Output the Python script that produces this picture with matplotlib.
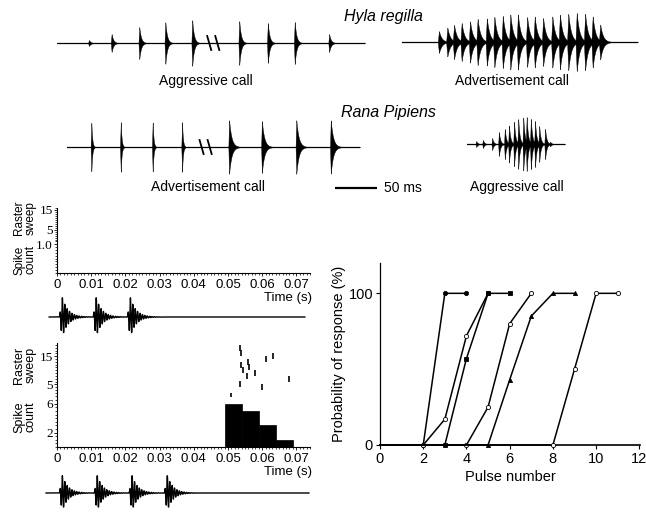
import numpy as np
import matplotlib
matplotlib.use("Agg")
import matplotlib.pyplot as plt
from matplotlib.ticker import MultipleLocator

plt.rcParams["font.family"] = ["Liberation Sans", "DejaVu Sans"]

# ---------------- data ----------------
# oscillograms: pulse peak times (ms from trace start) and amplitudes (a.u.)
hyla_agg_t = [38, 65, 98, 129, 161, 217, 251, 283, 324]
hyla_agg_a = [3, 9, 16, 21, 23, 22, 20, 21, 9]
hyla_agg_len = 367
hyla_agg_break = 186

hyla_adv_t = [44, 54, 62, 71, 81, 90, 101, 110, 120, 129, 138, 149, 158,
              168, 179, 188, 198, 208, 218, 227, 236]
hyla_adv_a = [11, 14, 16, 18, 20, 22, 23, 24, 25, 26, 26, 24, 24, 23, 25,
              26, 27, 28, 27, 24, 16]
hyla_adv_len = 281

rana_adv_t = [29, 64, 102, 137, 193, 232, 273, 314]
rana_adv_a = [25, 25, 25, 25, 27, 26, 27, 27]
rana_adv_len = 349
rana_adv_break = 165

rana_agg_t = [11, 19, 30, 38, 45, 50, 56, 61, 67, 71, 76, 81, 86, 93, 99]
rana_agg_a = [3, 4, 6, 12, 15, 18, 22, 24, 26, 25, 24, 22, 17, 15, 2]
rana_agg_len = 117

# stimuli under the raster panels (s)
stim1_peaks = [0.0015, 0.0114, 0.0214]
stim2_peaks = [0.0015, 0.0117, 0.0219, 0.0322]
stim1_span = (-0.0023, 0.0725)
stim2_span = (-0.0032, 0.0737)

# raster + PSTH (bottom panel)
raster_t = [0.0510, 0.0535, 0.0537, 0.0543, 0.0555, 0.0559, 0.0562, 0.0580,
            0.0601, 0.0611, 0.0633, 0.0680, 0.0534, 0.0537]
raster_sweep = [1, 5, 12, 10, 8, 13, 11, 9, 4, 14, 15, 7, 18, 16]
bin_edges = [0.049, 0.054, 0.059, 0.064, 0.069]
bin_counts = [6, 5, 3, 1]

time_ticks = [0, 0.01, 0.02, 0.03, 0.04, 0.05, 0.06, 0.07]
time_labels = ["0", "0.01", "0.02", "0.03", "0.04", "0.05", "0.06", "0.07"]

# probability of response vs pulse number
curve_a = [0, 0, 0, 100, 100]
curve_b = [0, 0, 0, 17, 72, 100]
curve_c = [0, 0, 0, 0, 57, 100, 100]
curve_d = [0, 0, 0, 0, 0, 25, 80, 100]
curve_e = [0, 0, 0, 0, 0, 0, 43, 85, 100, 100]
curve_f = [0, 0, 0, 0, 0, 0, 0, 0, 0, 50, 100, 100]

# ---------------- figure ----------------
W, H = 646, 512
fig = plt.figure(figsize=(W / 100, H / 100), dpi=100)


def px_axes(left, top, width, height):
    return fig.add_axes([left / W, 1 - (top + height) / H, width / W, height / H])


def ftext(x, y, s, **kw):
    fig.text(x / W, 1 - y / H, s, **kw)


PX_PER_MS = 0.84


def oscillogram(left, base_y, times, amps, length, rise, decay, brk=None):
    w = length * PX_PER_MS
    ax = px_axes(left, base_y - 35, w, 70)
    ax.set_xlim(0, length)
    ax.set_ylim(-35, 35)
    ax.axis("off")
    t = np.linspace(0, length, 6000)
    env = np.zeros_like(t)
    decays = decay if np.iterable(decay) else [decay] * len(times)
    for t0, a, dc in zip(times, amps, decays):
        d = t - t0
        env += a * np.where(d < 0, np.clip(1 + d / rise, 0, 1), np.exp(-d / dc))
    ax.fill_between(t, -env, env, color="black", lw=0.3)
    ax.plot([0, length], [0, 0], color="black", lw=0.9)
    if brk is not None:
        for off in (-4.8, 4.8):
            ax.plot([brk + off - 2.4, brk + off + 2.4], [7, -7], color="black", lw=1.3)
    return ax


oscillogram(57, 43, hyla_agg_t, hyla_agg_a, hyla_agg_len, 1.0, 2.0, hyla_agg_break)
oscillogram(402, 42, hyla_adv_t, hyla_adv_a, hyla_adv_len, 1.4, 3.2)
oscillogram(67, 147, rana_adv_t, rana_adv_a, rana_adv_len, 0.9,
            [1.0, 1.0, 1.0, 1.0, 2.8, 2.8, 2.8, 2.8], rana_adv_break)
oscillogram(467, 144, rana_agg_t, rana_agg_a, rana_agg_len, 0.9, 1.6)

# 50 ms scale bar
sb = px_axes(335, 183, 50 * PX_PER_MS, 10)
sb.set_xlim(0, 50)
sb.set_ylim(-1, 1)
sb.axis("off")
sb.plot([0, 50], [0, 0], color="black", lw=1.6)
ftext(384, 188, "50 ms", fontsize=10, va="center", ha="left")

ftext(383, 16, "Hyla regilla", fontsize=11.5, style="italic", ha="center", va="center")
ftext(206, 81, "Aggressive call", fontsize=10, ha="center", va="center")
ftext(512, 81, "Advertisement call", fontsize=10, ha="center", va="center")
ftext(388, 113, "Rana Pipiens", fontsize=11.5, style="italic", ha="center", va="center")
ftext(208, 187, "Advertisement call", fontsize=10, ha="center", va="center")
ftext(517, 187, "Aggressive call", fontsize=10, ha="center", va="center")

# ---------------- raster panels ----------------
XL = (0, 0.074)
serif = ["Liberation Serif", "DejaVu Serif"]


def style_left(ax, show_bottom):
    for s in ("top", "right"):
        ax.spines[s].set_visible(False)
    ax.spines["bottom"].set_visible(show_bottom)
    ax.spines["left"].set_linewidth(0.8)
    ax.spines["bottom"].set_linewidth(0.8)
    ax.set_xlim(*XL)
    ax.tick_params(axis="y", which="major", length=2, width=0.6, pad=1, labelsize=9.5)
    ax.tick_params(axis="y", which="minor", length=1.3, width=0.5)
    for lab in ax.get_yticklabels():
        lab.set_fontfamily(serif)
    if show_bottom:
        ax.set_xticks(time_ticks)
        ax.set_xticklabels(time_labels)
        ax.xaxis.set_minor_locator(MultipleLocator(0.001))
        ax.tick_params(axis="x", which="major", length=2.5, width=0.6, pad=2, labelsize=9.5)
        ax.tick_params(axis="x", which="minor", length=1.3, width=0.5)
    else:
        ax.set_xticks([])
        ax.tick_params(axis="x", which="both", length=0)


def stimulus(top, base_y, peaks, span, amp):
    ax = px_axes(57, top, 253, 2 * (base_y - top))
    ax.set_xlim(*XL)
    ax.set_ylim(-(base_y - top), base_y - top)
    ax.axis("off")
    t = np.linspace(span[0], span[1], 8000)
    y = np.zeros_like(t)
    for t0 in peaks:
        d = t - t0
        env = np.where(d < 0, np.clip(1 + d / 0.0008, 0, 1), np.exp(-d / 0.0017))
        y += amp * env * np.sin(2 * np.pi * (d + 0.0008) / 0.0007)
    ax.plot(t, y, color="black", lw=1.0, clip_on=False)


# top panel (no response)
r1 = px_axes(57, 208, 253, 32)
r1.set_ylim(0, 16)
r1.set_yticks([5, 15])
r1.yaxis.set_minor_locator(MultipleLocator(1))
style_left(r1, False)
c1 = px_axes(57, 240, 253, 33)
c1.set_ylim(0, 1.14)
c1.set_yticks([1.0])
c1.set_yticklabels(["1.0"])
c1.yaxis.set_minor_locator(MultipleLocator(0.1))
style_left(c1, True)
ftext(312, 298, "Time (s)", fontsize=9.5, ha="right", va="center")
ftext(25, 218, "Raster\nsweep", fontsize=8.5, rotation=90, ha="center", va="center", linespacing=1.0)
ftext(25, 260, "Spike\ncount", fontsize=8.5, rotation=90, ha="center", va="center", linespacing=1.0)
stimulus(295, 317, stim1_peaks, stim1_span, 20)

# bottom panel (response)
r2 = px_axes(57, 343, 253, 54)
r2.set_ylim(0.5, 19.7)
r2.set_yticks([5, 15])
r2.yaxis.set_minor_locator(MultipleLocator(1))
style_left(r2, False)
r2.plot(raster_t, raster_sweep, ls="none", marker="|", ms=4, mew=1.2, color="black")
c2 = px_axes(57, 397, 253, 50)
c2.set_ylim(0, 6.95)
c2.set_yticks([2, 6])
c2.yaxis.set_minor_locator(MultipleLocator(0.5))
style_left(c2, True)
c2.bar(bin_edges[:-1], bin_counts, width=np.diff(bin_edges), align="edge",
       color="black", edgecolor="black", lw=0.5)
ftext(312, 472, "Time (s)", fontsize=9.5, ha="right", va="center")
ftext(25, 365, "Raster\nsweep", fontsize=9, rotation=90, ha="center", va="center", linespacing=1.0)
ftext(25, 417, "Spike\ncount", fontsize=9, rotation=90, ha="center", va="center", linespacing=1.0)
stimulus(473, 493, stim2_peaks, stim2_span, 18)

# ---------------- probability panel ----------------
ax = px_axes(380, 263, 260, 182)
curves = [
    (curve_a, "o", "black"),
    (curve_b, "o", "white"),
    (curve_c, "s", "black"),
    (curve_d, "o", "white"),
    (curve_e, "^", "black"),
    (curve_f, "o", "white"),
]
for vals, mk, fc in curves:
    x = np.arange(len(vals))
    start = max(i for i, v in enumerate(vals) if v == 0)
    ax.plot(x, vals, color="black", lw=1.1, marker=mk, ms=3.0, mfc=fc, mec="black",
            mew=0.6, markevery=slice(start, None), clip_on=False, zorder=3)
ax.set_xlim(0, 12.03)
ax.set_ylim(0, 120)
ax.set_xticks(range(0, 13, 2))
ax.set_yticks([0, 100])
for s in ("top", "right"):
    ax.spines[s].set_visible(False)
ax.spines["left"].set_linewidth(0.9)
ax.spines["bottom"].set_linewidth(1.2)
ax.tick_params(length=3, width=0.8, labelsize=10.5, pad=2)
ax.set_xlabel("Pulse number", fontsize=10.5, labelpad=3)
ax.set_ylabel("Probability of response (%)", fontsize=10.5, labelpad=2)

fig.savefig("out.png", dpi=100)
